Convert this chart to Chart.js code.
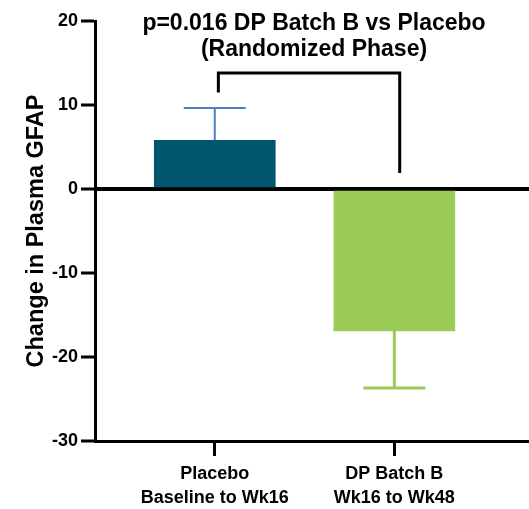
<!DOCTYPE html>
<html>
<head>
<meta charset="utf-8">
<script src="https://cdn.jsdelivr.net/npm/chart.js@4.4.1/dist/chart.umd.min.js"></script>
<style>
  html, body { margin: 0; padding: 0; background: #fff; }
  #wrap { width: 529px; height: 509px; position: relative; }
</style>
</head>
<body>
<div id="wrap"><canvas id="gfapChart"></canvas></div>
<script>
// ---- data ----
const categorias = [
  ["Placebo", "Baseline to Wk16"],
  ["DP Batch B", "Wk16 to Wk48"]
];
const medias = [5.8, -16.9];
const errores = [3.85, 6.8];          // SEM, dibujado en la direccion de la barra
const colores = ["#00566f", "#9ccc58"];
const coloresError = ["#4f7fc3", "#9ccc58"];
const yTicks = [20, 10, 0, -10, -20, -30];

// corchete de significancia (en unidades de los ejes)
const corcheteX = [0.02, 0.02, 1.03, 1.03];
const corcheteY = [11.5, 13.8, 13.8, 1.9];

const titulo = ["p=0.016 DP Batch B vs Placebo", "(Randomized Phase)"];
const tituloY = "Change in Plasma GFAP";

const FUENTE = "'Liberation Sans', Arial, sans-serif";

// ---- error bars ----
const errorBarsPlugin = {
  id: "errorBars",
  afterDatasetsDraw(chart) {
    const { ctx, scales: { x, y } } = chart;
    ctx.save();
    medias.forEach((m, i) => {
      const px = x.getPixelForValue(i);
      const dir = m >= 0 ? 1 : -1;
      const y0 = y.getPixelForValue(m);
      const y1 = y.getPixelForValue(m + dir * errores[i]);
      ctx.strokeStyle = coloresError[i];
      ctx.lineWidth = i === 0 ? 2 : 3;
      ctx.beginPath();
      ctx.moveTo(px, y0);
      ctx.lineTo(px, y1);
      ctx.moveTo(px - 31, y1);
      ctx.lineTo(px + 31, y1);
      ctx.stroke();
    });
    ctx.restore();
  }
};

// ---- titulo dentro del area ----
const tituloPlugin = {
  id: "tituloInterno",
  afterDraw(chart) {
    const { ctx } = chart;
    ctx.save();
    ctx.fillStyle = "#000";
    ctx.font = "bold 23px " + FUENTE;
    ctx.textAlign = "center";
    ctx.textBaseline = "alphabetic";
    ctx.fillText(titulo[0], 314, 30);
    ctx.fillText(titulo[1], 314, 56);
    ctx.restore();
  }
};

const ctx = document.getElementById("gfapChart").getContext("2d");

new Chart(ctx, {
  data: {
    datasets: [
      {
        type: "bar",
        data: medias.map((v, i) => ({ x: i, y: v })),
        backgroundColor: colores,
        barThickness: 121,
        borderWidth: 0,
        order: 2
      },
      {
        type: "line",
        data: corcheteX.map((v, i) => ({ x: v, y: corcheteY[i] })),
        borderColor: "#000",
        borderWidth: 3,
        pointRadius: 0,
        fill: false,
        tension: 0,
        order: 1
      }
    ]
  },
  options: {
    responsive: true,
    maintainAspectRatio: false,
    animation: false,
    layout: { padding: { top: 21, right: 0, bottom: 0, left: 0 } },
    plugins: {
      legend: { display: false },
      tooltip: { enabled: false }
    },
    scales: {
      x: {
        type: "linear",
        offset: false,
        min: -0.667,
        max: 1.75,
        afterBuildTicks: s => { s.ticks = categorias.map((_, i) => ({ value: i })); },
        afterFit: s => { s.height = 68; },
        ticks: {
          autoSkip: false,
          maxRotation: 0,
          padding: 6,
          color: "#000",
          font: { family: FUENTE, size: 18, weight: "bold", lineHeight: 1.32 },
          callback: (v) => categorias[v] || ""
        },
        grid: {
          offset: false,
          drawOnChartArea: false,
          drawTicks: true,
          tickLength: 15,
          tickWidth: 3,
          tickColor: "#000"
        },
        border: { color: "#000", width: 3 }
      },
      y: {
        min: -30,
        max: 20,
        afterBuildTicks: s => { s.ticks = yTicks.map(v => ({ value: v })); },
        afterFit: s => { s.width = 95; },
        ticks: {
          padding: 3,
          color: "#000",
          font: { family: FUENTE, size: 18, weight: "bold" }
        },
        grid: {
          drawTicks: true,
          tickLength: 14,
          tickWidth: 3,
          tickColor: "#000",
          color: c => (c.tick && c.tick.value === 0 ? "#000" : "rgba(0,0,0,0)"),
          lineWidth: c => (c.tick && c.tick.value === 0 ? 4 : 0)
        },
        border: { color: "#000", width: 3 },
        title: {
          display: true,
          text: tituloY,
          color: "#000",
          font: { family: FUENTE, size: 23.5, weight: "bold" },
          padding: { top: 22, bottom: 0 }
        }
      }
    }
  },
  plugins: [errorBarsPlugin, tituloPlugin]
});
</script>
</body>
</html>
